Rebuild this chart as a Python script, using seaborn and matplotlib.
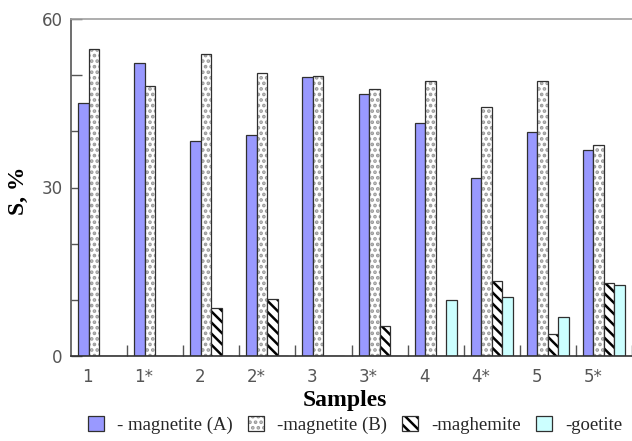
import numpy as np
import pandas as pd
import matplotlib
matplotlib.use("Agg")
import matplotlib.pyplot as plt
from matplotlib.patches import Patch
import seaborn as sns

samples = ["1", "1*", "2", "2*", "3", "3*", "4", "4*", "5", "5*"]
minerals = ["magnetite (A)", "magnetite (B)", "maghemite", "goetite"]
legend_labels = ["- magnetite (A)", "-magnetite (B)", "-maghemite", "-goetite"]
magnetite_a = [45.0, 52.1, 38.2, 39.3, 49.7, 46.6, 41.4, 31.7, 39.8, 36.7]
magnetite_b = [54.6, 48.1, 53.7, 50.4, 49.9, 47.6, 49.0, 44.4, 49.0, 37.6]
maghemite = [0, 0, 8.5, 10.1, 0, 5.4, 0, 13.3, 3.9, 13.0]
goetite = [0, 0, 0, 0, 0, 0, 9.9, 10.5, 7.0, 12.7]
y_ticks = [0, 30, 60]

df = pd.DataFrame({
    "sample": samples * 4,
    "mineral": np.repeat(minerals, len(samples)),
    "value": magnetite_a + magnetite_b + maghemite + goetite,
})

sns.set_theme(style="white")
plt.rcParams["hatch.linewidth"] = 1.8

fig = plt.figure(figsize=(6.32, 4.41), dpi=100)
ax = fig.add_axes([71 / 632, 1 - 356 / 441, 561 / 632, 337 / 441])

sns.barplot(data=df, x="sample", y="value", hue="mineral", order=samples,
            hue_order=minerals, width=0.75, dodge=True, ax=ax, legend=False,
            errorbar=None, saturation=1)

styles = {
    "magnetite (A)": dict(fc="#9999FF", hatch=None, hc=None),
    "magnetite (B)": dict(fc="white", hatch="...", hc="#9a9a9a"),
    "maghemite": dict(fc="white", hatch="\\\\\\", hc="black"),
    "goetite": dict(fc="#CCFFFF", hatch=None, hc=None),
}
edge = "#303030"
n = len(samples)
for i, p in enumerate(ax.patches[: 4 * n]):
    st = styles[minerals[i // n]]
    p.set_facecolor(st["fc"])
    p.set_edgecolor(edge)
    p.set_linewidth(0.9)
    if st["hatch"]:
        p.set_hatch(st["hatch"])
        p._hatch_color = matplotlib.colors.to_rgba(st["hc"])

ax.set_xlim(-0.5, n - 0.5)
ax.set_ylim(0, 60)
ax.set_yticks(y_ticks)
ax.set_yticks(np.arange(0, 61, 10), minor=True)
ax.set_xticks(np.arange(n) - 0.2, samples)
ax.set_xticks(np.arange(n) + 0.5, minor=True)
ax.tick_params(axis="y", which="both", direction="in", length=8, width=1,
               color="#555555", labelsize=12, labelcolor="#555555", pad=6, left=True)
ax.tick_params(axis="x", which="major", length=0, labelsize=12,
               labelcolor="#555555", pad=9)
ax.tick_params(axis="x", which="minor", direction="in", length=8, width=1,
               color="#555555", bottom=True)
for lab in ax.get_xticklabels() + ax.get_yticklabels():
    lab.set_family("DejaVu Sans")

ax.spines["right"].set_visible(False)
ax.spines["top"].set_color("#a0a0a0")
ax.spines["top"].set_linewidth(1.2)
ax.spines["left"].set_color("#555555")
ax.spines["left"].set_linewidth(1.2)
ax.spines["bottom"].set_color("#333333")
ax.spines["bottom"].set_linewidth(1.2)

ax.set_xlabel("Samples", fontsize=17, fontweight="bold",
              family="Liberation Serif", color="black")
ax.xaxis.set_label_coords(0.488, -0.10)
ax.set_ylabel("S, %", fontsize=17, fontweight="bold",
              family="Liberation Serif", color="black")
ax.yaxis.set_label_coords(-0.075, 0.49)

handles = []
for m in minerals:
    st = styles[m]
    h = Patch(facecolor=st["fc"], edgecolor=edge, linewidth=0.9,
              hatch=st["hatch"])
    if st["hatch"]:
        h._hatch_color = matplotlib.colors.to_rgba(st["hc"])
    handles.append(h)
fig.legend(handles, legend_labels, loc="center", bbox_to_anchor=(0.562, 0.036),
           ncol=4, frameon=False, handlelength=0.85, handleheight=0.85,
           handletextpad=0.7, columnspacing=0.8, borderpad=0.1,
           prop={"family": "Liberation Serif", "size": 13.5})

fig.savefig("out.png", dpi=100)
